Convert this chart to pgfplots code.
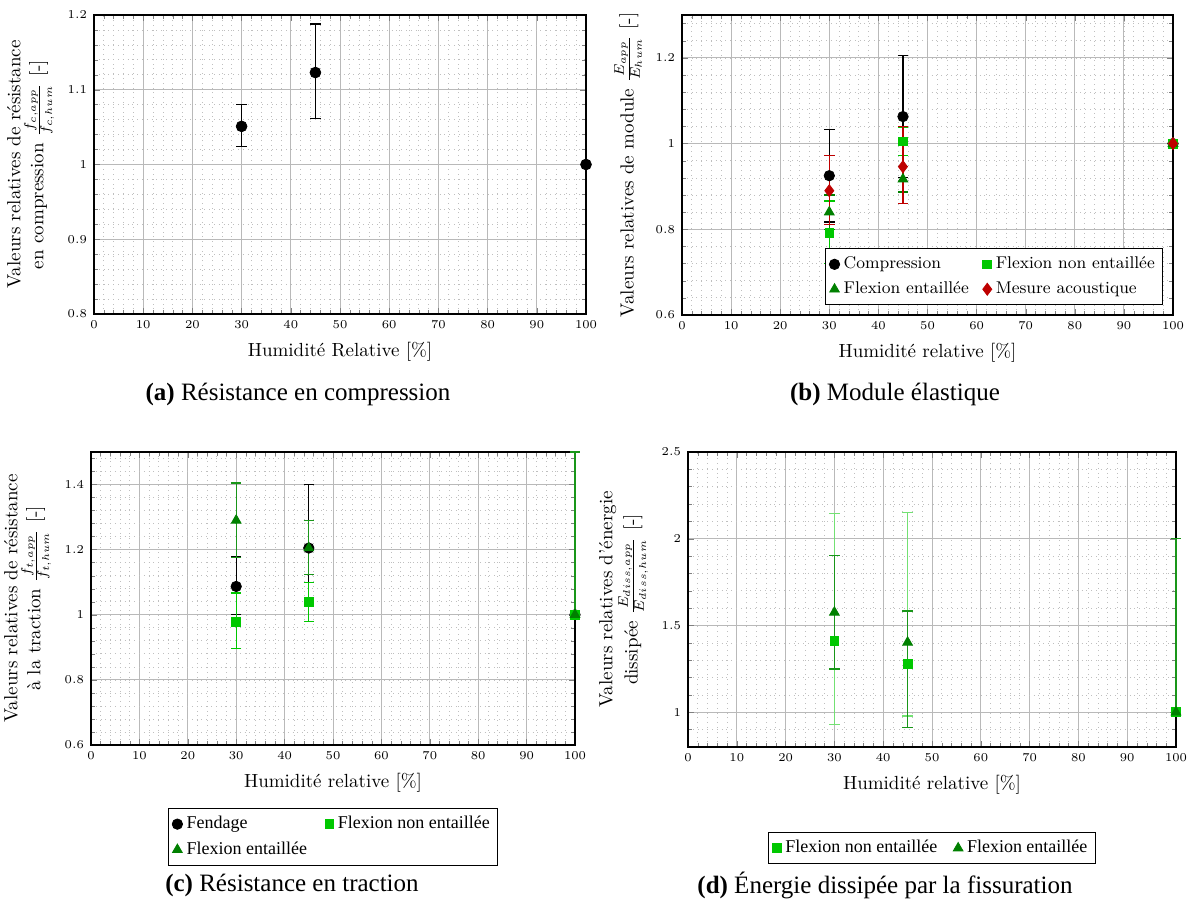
\documentclass[border=0pt]{standalone}
\usepackage{fontspec}
\newfontfamily\capfont{Liberation Serif}
\usepackage{pgfplots}
\pgfplotsset{compat=1.18}
\definecolor{fne}{RGB}{0,200,0}
\definecolor{fe}{RGB}{0,128,0}
\definecolor{ma}{RGB}{190,0,0}
\definecolor{febar}{RGB}{25,150,25}
\pgfplotsset{
 myax/.style={
  scale only axis,
  xmin=0, xmax=100,
  xtick={0,10,...,100},
  minor xtick={0,2,...,100},
  grid=both,
  major grid style={gray!55, line width=0.5pt},
  minor grid style={gray!50, dotted, line width=0.35pt},
  tick label style={font=\fontsize{6.5}{7}\selectfont},
  label style={font=\fontsize{9.5}{11.5}\selectfont},
  ylabel style={align=center},
  axis line style={line width=0.6pt},
  major tick length=3pt, minor tick length=2pt,
  clip=false,
  legend cell align=left,
 },
 errs/.style={/pgfplots/error bars/y dir=both, /pgfplots/error bars/y explicit,
   /pgfplots/error bars/error bar style={#1, line width=0.6pt},
   /pgfplots/error bars/error mark options={rotate=90, #1, line width=0.6pt, mark size=2.6pt}},
}
\begin{document}
\begin{tikzpicture}
\path[use as bounding box] (0,0) rectangle (594.5pt,449.5pt);
% (a)
\begin{axis}[myax, at={(47pt,292.5pt)}, anchor=south west, width=246pt, height=149.5pt,
  ymin=0.8, ymax=1.2, ytick={0.8,0.9,...,1.2}, minor ytick={0.8,0.82,...,1.2},
  xlabel={Humidité Relative [\%]},
  ylabel={Valeurs relatives de résistance\\en compression $\frac{f_{c,app}}{f_{c,hum}}$ [-]}]
\addplot[black, only marks, mark=*, mark size=2.7pt, errs=black] coordinates {
 (30,1.051) += (0,0.029) -= (0,0.027)
 (45,1.123) += (0,0.065) -= (0,0.062)
 (100,1.0)};
\end{axis}
% (b)
\begin{axis}[myax, at={(341pt,292pt)}, anchor=south west, width=245.5pt, height=150pt,
  ymin=0.6, ymax=1.3, ytick={0.6,0.8,1,1.2}, minor ytick={0.6,0.64,...,1.3},
  xlabel={Humidité relative [\%]},
  ylabel={Valeurs relatives de module $\frac{E_{app}}{E_{hum}}$ [-]},
  legend columns=2,
  legend style={at={(0.98,0.033)}, anchor=south east, font=\fontsize{8.5}{10}\selectfont,
    /tikz/every even column/.append style={column sep=5pt}, draw=black, inner sep=2pt, row sep=1pt}]
\addplot[black, only marks, mark=*, mark size=2.6pt, errs=black] coordinates {
 (30,0.925) +- (0,0.108)
 (45,1.063) +- (0,0.142)
 (100,1.0)};
\addlegendentry{Compression}
\addplot[fne, only marks, mark=square*, mark size=2.2pt, errs=fne] coordinates {
 (30,0.792) += (0,0.074) -= (0,0.072)
 (45,1.005) +- (0,0.033)
 (100,1.0)};
\addlegendentry{Flexion non entaillée}
\addplot[fe, only marks, mark=triangle*, mark size=2.8pt, errs=fe] coordinates {
 (30,0.840) +- (0,0.040)
 (45,0.917) +- (0,0.030)
 (100,1.0)};
\addlegendentry{Flexion entaillée}
\addplot[ma, only marks, mark=diamond*, mark size=3pt, errs=ma] coordinates {
 (30,0.890) += (0,0.082) -= (0,0.078)
 (45,0.946) += (0,0.093) -= (0,0.085)
 (100,1.0)};
\addlegendentry{Mesure acoustique}
\end{axis}
% (c)
\begin{axis}[myax, at={(45.5pt,77pt)}, anchor=south west, width=242pt, height=146.5pt,
  ymin=0.6, ymax=1.5, ytick={0.6,0.8,1,1.2,1.4}, minor ytick={0.6,0.64,...,1.5},
  xlabel={Humidité relative [\%]},
  ylabel={Valeurs relatives de résistance\\à la traction $\frac{f_{t,app}}{f_{t,hum}}$ [-]},
  legend columns=2,
  legend style={at={(0.5,-0.215)}, anchor=north, font=\capfont\fontsize{9}{11}\selectfont,
    /tikz/every even column/.append style={column sep=7pt}, draw=black, inner sep=2pt, row sep=1pt}]
\addplot[black, only marks, mark=*, mark size=2.6pt, errs=black] coordinates {
 (30,1.087) += (0,0.093) -= (0,0.087)
 (45,1.205) += (0,0.195) -= (0,0.152)
 (100,1.0)};
\addlegendentry{Fendage}
\addplot[fne, only marks, mark=square*, mark size=2.2pt, errs=fne] coordinates {
 (30,0.977) += (0,0.090) -= (0,0.080)
 (45,1.040) += (0,0.060) -= (0,0.060)
 (100,1.0)};
\addlegendentry{Flexion non entaillée}
\addplot[fe, only marks, mark=triangle*, mark size=2.8pt, errs=febar] coordinates {
 (30,1.290) +- (0,0.115)
 (45,1.205) += (0,0.084) -= (0,0.082)
 (100,1.0) += (0,0.5) -= (0,0)};
\addlegendentry{Flexion entaillée}
\end{axis}
% (d)
\begin{axis}[myax, at={(344pt,76pt)}, anchor=south west, width=244pt, height=147.5pt,
  ymin=0.8, ymax=2.5, ytick={1,1.5,2,2.5}, minor ytick={0.8,0.9,...,2.5},
  xlabel={Humidité relative [\%]},
  ylabel={Valeurs relatives d'énergie\\dissipée $\frac{E_{diss,app}}{E_{diss,hum}}$ [-]},
  legend columns=2,
  legend style={at={(0.5,-0.288)}, anchor=north, font=\capfont\fontsize{9}{11}\selectfont,
    /tikz/every even column/.append style={column sep=6pt}, draw=black, inner sep=2pt}]
\addplot[fne, only marks, mark=square*, mark size=2.2pt, errs=fne!55!white] coordinates {
 (30,1.410) += (0,0.735) -= (0,0.482)
 (45,1.279) += (0,0.873) -= (0,0.300)
 (100,1.0)};
\addlegendentry{Flexion non entaillée}
\addplot[fe, only marks, mark=triangle*, mark size=2.8pt, errs=febar] coordinates {
 (30,1.576) +- (0,0.326)
 (45,1.403) += (0,0.181) -= (0,0.490)
 (100,1.0) += (0,1.0) -= (0,0)};
\addlegendentry{Flexion entaillée}
\end{axis}
% captions
\node[font=\capfont\fontsize{12.5}{14}\selectfont] at (149pt,252.5pt) {\textbf{(a)} Résistance en compression};
\node[font=\capfont\fontsize{12.5}{14}\selectfont] at (447.5pt,252.5pt) {\textbf{(b)} Module élastique};
\node[font=\capfont\fontsize{12.5}{14}\selectfont] at (146pt,7pt) {\textbf{(c)} Résistance en traction};
\node[font=\capfont\fontsize{12.5}{14}\selectfont] at (442.5pt,7pt) {\textbf{(d)} Énergie dissipée par la fissuration};
\end{tikzpicture}
\end{document}
